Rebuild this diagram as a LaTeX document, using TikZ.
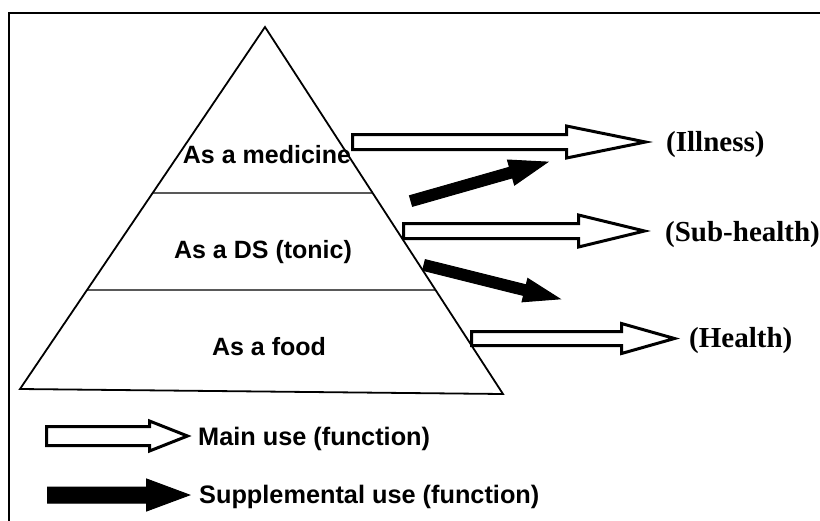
\documentclass[tikz,border=0pt]{standalone}
\usepackage{fontspec}
\setmainfont{Liberation Serif}
\newfontfamily\arialfont{Liberation Sans}
\usetikzlibrary{calc}
\tikzset{
  pics/blockarrow/.style n args={4}{code={
    \path[pic actions] (0,-#2) -- ({#1-#4},-#2) -- ({#1-#4},-#3) -- (#1,0)
      -- ({#1-#4},#3) -- ({#1-#4},#2) -- (0,#2) -- cycle;
  }},
  lvltext/.style={font=\arialfont\bfseries\fontsize{25}{29}\selectfont, inner sep=0, anchor=base},
  stlabel/.style={font=\bfseries\fontsize{29}{34}\selectfont, inner sep=0, anchor=base west},
  legtext/.style={font=\arialfont\bfseries\fontsize{25.3}{29}\selectfont, inner sep=0, anchor=base west},
  hollowarr/.style={draw=black, fill=white, line width=3pt, line join=miter},
  filledarr/.style={draw=black, fill=black, line width=1pt, line join=miter},
  pyr/.style={draw=black, line width=1.8pt, line join=miter}
}
\begin{document}
\begin{tikzpicture}[x=1pt,y=-1pt]
\useasboundingbox (0,0) rectangle (820,520);
\clip (0,0) rectangle (820,520);
\fill[white] (0,0) rectangle (820,520);
% frame
\draw[line width=2.5pt] (9,540) -- (9,13) -- (840,13);
% pyramid
\coordinate (apex) at (265,27);
\coordinate (bl) at (20,389);
\coordinate (br) at (503,394);
\draw[pyr] (apex) -- (br) -- (bl) -- cycle;
\draw[pyr, line width=1.4pt] ($(apex)!0.4586!(bl)$) -- ($(apex)!0.4523!(br)$);
\draw[pyr, line width=1.4pt] ($(apex)!0.7265!(bl)$) -- ($(apex)!0.7166!(br)$);
% level texts
\node[lvltext] (med) at (267,163) {As a medicine};
\node[lvltext] (ds) at (263,258) {As a DS (tonic)};
\node[lvltext] (food) at (269,355) {As a food};
% state labels
\node[stlabel] (ill) at (666,151.5) {(Illness)};
\node[stlabel] (sub) at (665,241.5) {(Sub-health)};
\node[stlabel] (hea) at (689,347.5) {(Health)};
% main-use arrows
\coordinate (a1) at (352.5,142);
\coordinate (a2) at (403.5,231);
\coordinate (a3) at (471.5,338.5);
\pic[hollowarr] at (a1) {blockarrow={293}{7.5}{16}{79}};
\pic[hollowarr] at (a2) {blockarrow={241}{7.5}{16}{66}};
\pic[hollowarr] at (a3) {blockarrow={203}{7}{15}{53}};
% supplemental arrows
\coordinate (s1) at (411,201);
\coordinate (s2) at (424,265);
\pic[filledarr, rotate=15.9] at (s1) {blockarrow={142}{5.5}{13}{38}};
\pic[filledarr, rotate=-14] at (s2) {blockarrow={140}{5.5}{12}{36}};
% legend
\coordinate (lg1) at (46.5,436);
\coordinate (lg2) at (47.5,495);
\pic[hollowarr] at (lg1) {blockarrow={141}{9.5}{15}{38}};
\pic[filledarr] at (lg2) {blockarrow={142}{8}{16}{43}};
\node[legtext] (lmain) at (198,445) {Main use (function)};
\node[legtext] (lsupp) at (199,503) {Supplemental use (function)};
\end{tikzpicture}
\end{document}
